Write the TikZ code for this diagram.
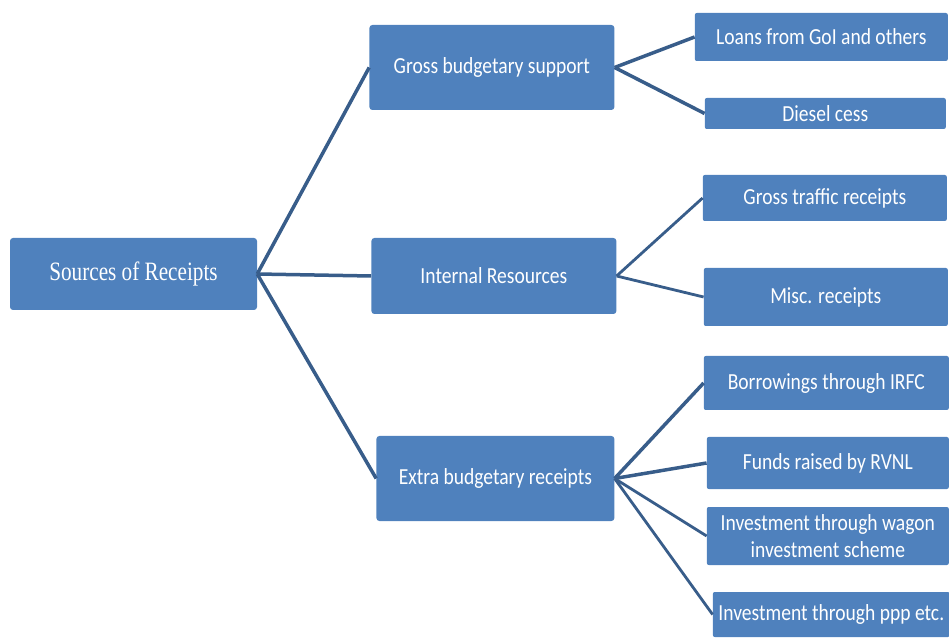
\documentclass[tikz,border=0pt]{standalone}
\usepackage{fontspec}
\setmainfont{Carlito}[FakeStretch=0.85]
\newfontfamily\rootfont{Liberation Serif}[FakeStretch=0.8]
\usepackage{tikz}
\usetikzlibrary{positioning}
\definecolor{boxblue}{RGB}{79,129,189}
\definecolor{linkblue}{RGB}{56,93,138}
\newcommand{\boxfont}{\fontsize{23pt}{27pt}\selectfont}
\tikzset{box/.style={fill=boxblue, rounded corners=3pt, text=white, inner sep=0pt, align=center, font=\boxfont}}
\tikzset{midbox/.style={box, minimum width=245pt, minimum height=80pt}}
\tikzset{leafbox/.style={box, rounded corners=2pt, minimum width=243pt, minimum height=52pt}}
\tikzset{line/.style={draw=linkblue, line width=3.5pt}}
\tikzset{thinline/.style={draw=linkblue, line width=2.8pt}}

\begin{document}
\begin{tikzpicture}[x=1pt, y=1pt]
        \useasboundingbox (0,0) rectangle (949,637);
        \node [box, minimum width=247pt, minimum height=72pt, font=\rootfont\fontsize{26.5pt}{30pt}\selectfont] (root) at (133.5,363) {Sources of Receipts};
        \node [midbox, minimum height=85pt, right=112pt of root, yshift=206.5pt]       (gbs)     {Gross budgetary support};
        \node [midbox, minimum height=76pt, right=114pt of root, yshift=-2pt]          (intres)  {Internal Resources};
        \node [midbox, minimum width=238pt, minimum height=85pt, right=119pt of root, yshift=-204.5pt] (extra) {Extra budgetary receipts};
        %
        \node [leafbox, minimum width=253pt, minimum height=48pt, right=80pt of gbs, yshift=30.5pt]  (loans)   {Loans from GoI and others};
        \node [leafbox, minimum width=241pt, minimum height=31pt, right=90pt of gbs, yshift=-46pt]   (diesel)  {Diesel cess};
        %
        \node [leafbox, minimum width=244pt, minimum height=46pt, right=86pt of intres, yshift=78pt] (traffic) {Gross traffic receipts};
        \node [leafbox, minimum width=244pt, minimum height=58pt, right=87pt of intres, yshift=-21pt] (misc)   {Misc. receipts};
        %
        \node [leafbox, minimum width=245pt, minimum height=54pt, right=89pt of extra, yshift=95.5pt]  (irfc)   {Borrowings through IRFC};
        \node [leafbox, minimum width=242pt, minimum height=52pt, right=92pt of extra, yshift=15.5pt]  (rvnl)   {Funds raised by RVNL};
        \node [leafbox, minimum width=242pt, minimum height=58pt, right=92pt of extra, yshift=-57.5pt] (wagon)  {Investment through wagon\\investment scheme};
        \node [leafbox, minimum width=237pt, minimum height=45pt, right=98pt of extra, yshift=-136pt]  (ppp)    {Investment through ppp etc.};
        %
        \path [line] (root.east) -- (gbs.west);
        \path [line] (root.east) -- (intres.west);
        \path [line] (root.east) -- (extra.west);
        \path [line] (gbs.east) -- (loans.west);
        \path [line] (gbs.east) -- (diesel.west);
        \path [thinline] (intres.east) -- (traffic.west);
        \path [thinline] (intres.east) -- (misc.west);
        \path [line] (extra.east) -- (irfc.west);
        \path [line] (extra.east) -- (rvnl.west);
        \path [thinline] (extra.east) -- (wagon.west);
        \path [thinline] (extra.east) -- (ppp.west);
    \end{tikzpicture}
\end{document}
